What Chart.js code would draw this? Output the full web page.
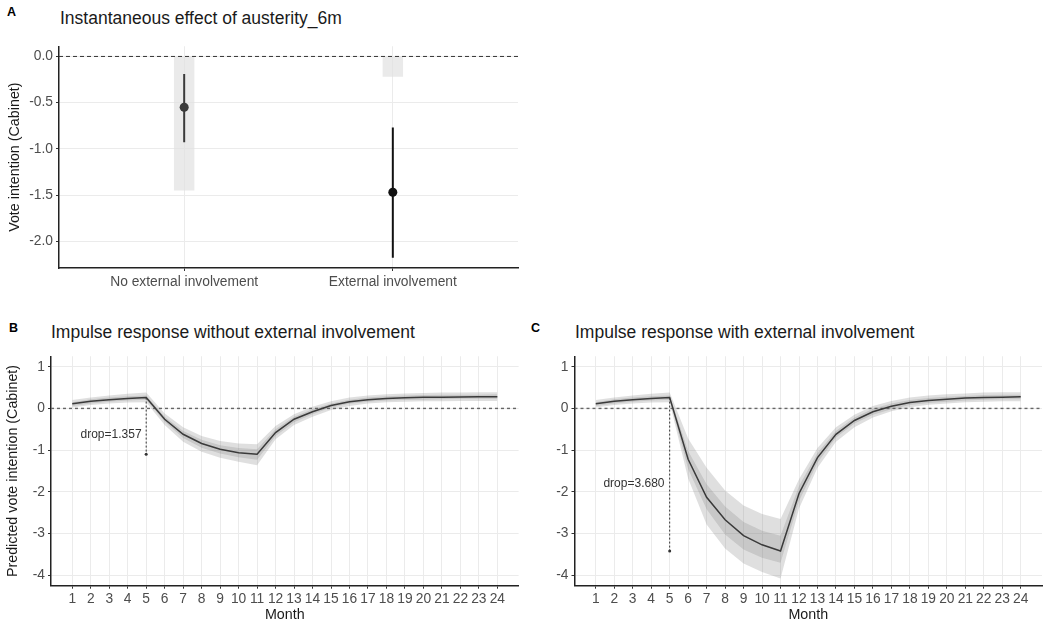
<!DOCTYPE html>
<html>
<head>
<meta charset="utf-8">
<script src="https://cdn.jsdelivr.net/npm/chart.js@4"></script>
<style>
  html,body{margin:0;padding:0;background:#fff;}
  body{width:1046px;height:625px;position:relative;overflow:hidden;font-family:"Liberation Sans",Arial,sans-serif;}
  .box{position:absolute;}
  .ttl{position:absolute;font-size:17.5px;color:#1a1a1a;white-space:nowrap;line-height:1;}
  .lt{position:absolute;font-size:12.5px;font-weight:bold;color:#000;line-height:1;}
</style>
</head>
<body>
<div class="lt" style="left:7px;top:6px;">A</div>
<div class="ttl" style="left:60px;top:10px;">Instantaneous effect of austerity_6m</div>
<div class="lt" style="left:9px;top:322px;">B</div>
<div class="ttl" style="left:51px;top:324px;">Impulse response without external involvement</div>
<div class="lt" style="left:531px;top:322px;">C</div>
<div class="ttl" style="left:575px;top:324px;">Impulse response with external involvement</div>

<div class="box" style="left:0;top:35px;width:525px;height:270px;"><canvas id="cA"></canvas></div>
<div class="box" style="left:0;top:345px;width:525px;height:280px;"><canvas id="cB"></canvas></div>
<div class="box" style="left:520px;top:345px;width:526px;height:280px;"><canvas id="cC"></canvas></div>

<script>
// ---------- Panel A data ----------
const categoriesA = ["No external involvement", "External involvement"];
const estimateA = [-0.55, -1.47];
const ciLowA = [-0.93, -2.18];
const ciHighA = [-0.19, -0.77];
const boxLowA = [-1.45, -0.22];
const boxHighA = [0, 0];
const ticksA = [0, -0.5, -1.0, -1.5, -2.0];

// ---------- Panels B & C data ----------
const months = [1,2,3,4,5,6,7,8,9,10,11,12,13,14,15,16,17,18,19,20,21,22,23,24];
const monthTicks = months;
const ticksBC = [1, 0, -1, -2, -3, -4];

const lineB  = [0.11,0.17,0.21,0.24,0.26,-0.26,-0.62,-0.84,-0.98,-1.06,-1.10,-0.58,-0.26,-0.08,0.07,0.16,0.21,0.24,0.255,0.265,0.27,0.275,0.28,0.28];
const outerHiB = [0.20,0.26,0.31,0.35,0.38,-0.12,-0.45,-0.66,-0.78,-0.84,-0.86,-0.42,-0.14,0.04,0.17,0.26,0.31,0.34,0.36,0.37,0.38,0.38,0.39,0.39];
const outerLoB = [0.02,0.08,0.12,0.14,0.15,-0.40,-0.80,-1.04,-1.18,-1.28,-1.36,-0.74,-0.40,-0.20,-0.04,0.06,0.12,0.15,0.16,0.17,0.17,0.18,0.18,0.18];
const innerHiB = [0.15,0.22,0.26,0.29,0.31,-0.20,-0.54,-0.75,-0.88,-0.95,-0.98,-0.50,-0.20,-0.02,0.12,0.21,0.26,0.29,0.31,0.32,0.33,0.33,0.33,0.34];
const innerLoB = [0.06,0.12,0.16,0.19,0.21,-0.32,-0.71,-0.94,-1.08,-1.17,-1.23,-0.66,-0.33,-0.14,0.02,0.11,0.16,0.19,0.20,0.21,0.22,0.23,0.23,0.23];

const lineC  = [0.11,0.17,0.21,0.24,0.26,-1.22,-2.13,-2.67,-3.05,-3.27,-3.42,-2.04,-1.18,-0.62,-0.29,-0.08,0.05,0.14,0.19,0.22,0.25,0.26,0.27,0.28];
const outerHiC = [0.20,0.26,0.31,0.35,0.38,-0.72,-1.42,-1.97,-2.33,-2.53,-2.65,-1.70,-0.95,-0.45,-0.15,0.06,0.18,0.26,0.31,0.34,0.36,0.38,0.39,0.39];
const outerLoC = [0.02,0.08,0.12,0.14,0.15,-1.68,-2.78,-3.36,-3.72,-3.92,-4.08,-2.40,-1.42,-0.80,-0.45,-0.22,-0.07,0.03,0.09,0.12,0.15,0.16,0.17,0.17];
const innerHiC = [0.15,0.22,0.26,0.29,0.31,-1.02,-1.82,-2.35,-2.72,-2.93,-3.05,-1.86,-1.07,-0.54,-0.22,-0.01,0.12,0.20,0.25,0.28,0.30,0.32,0.33,0.33];
const innerLoC = [0.06,0.12,0.16,0.19,0.21,-1.45,-2.42,-3.02,-3.38,-3.58,-3.70,-2.22,-1.30,-0.70,-0.36,-0.15,-0.02,0.08,0.13,0.16,0.19,0.21,0.22,0.22];

const dropMonth = 5;
const dropB = {text: "drop=1.357", top: 0.26, bottom: -1.10, labelX: 4.75, labelY: -0.62};
const dropC = {text: "drop=3.680", top: 0.26, bottom: -3.42, labelX: 4.72, labelY: -1.81};

// ---------- shared styles ----------
const FONT = '"Liberation Sans", Arial, sans-serif';
const GRID = '#ebebeb';
const TICKC = '#4d4d4d';
const TICK_SIZE = 13.8;
const TITLE_SIZE = 14.3;
Chart.defaults.font.family = FONT;
Chart.defaults.animation = false;

const pts = (xs, ys) => xs.map((x, i) => ({x: x, y: ys[i]}));

function setTicks(values) {
  return function(scale) { scale.ticks = values.map(v => ({value: v})); };
}

// box half-width in category units (style)
const BOX_HALF = 0.05;
function boxEdge(i, yv) {
  return [{x: i + 1 - BOX_HALF, y: yv}, {x: i + 1 + BOX_HALF, y: yv}];
}

// ---------- Panel A ----------
new Chart(document.getElementById('cA'), {
  data: {
    datasets: [
      {type: 'scatter', data: pts([1], [estimateA[0]]), pointRadius: 4.5, pointBackgroundColor: '#3a3a3a', pointBorderWidth: 0, order: 1},
      {type: 'scatter', data: pts([2], [estimateA[1]]), pointRadius: 4.5, pointBackgroundColor: '#111', pointBorderWidth: 0, order: 1},
      {type: 'line', data: [{x: 1, y: ciHighA[0]}, {x: 1, y: ciLowA[0]}], borderColor: '#3a3a3a', borderWidth: 2, pointRadius: 0, order: 2},
      {type: 'line', data: [{x: 2, y: ciHighA[1]}, {x: 2, y: ciLowA[1]}], borderColor: '#111', borderWidth: 2, pointRadius: 0, order: 2},
      {type: 'line', data: [{x: 0.4, y: 0}, {x: 2.6, y: 0}], borderColor: '#333', borderWidth: 1, borderDash: [4, 3], pointRadius: 0, order: 3},
      {type: 'line', data: boxEdge(0, boxHighA[0]), borderWidth: 0, pointRadius: 0, fill: '+1', backgroundColor: 'rgba(225,225,225,0.7)', order: 5},
      {type: 'line', data: boxEdge(0, boxLowA[0]), borderWidth: 0, pointRadius: 0, fill: false, order: 5},
      {type: 'line', data: boxEdge(1, boxHighA[1]), borderWidth: 0, pointRadius: 0, fill: '+1', backgroundColor: 'rgba(225,225,225,0.7)', order: 5},
      {type: 'line', data: boxEdge(1, boxLowA[1]), borderWidth: 0, pointRadius: 0, fill: false, order: 5}
    ]
  },
  options: {
    responsive: true, maintainAspectRatio: false,
    layout: {padding: {top: 5, right: 7, left: 0, bottom: 0}},
    plugins: {legend: {display: false}, tooltip: {enabled: false}},
    scales: {
      x: {
        type: 'linear', min: 0.4, max: 2.6, offset: false,
        afterBuildTicks: setTicks([1, 2]),
        afterFit: s => { s.height = 37; },
        grid: {color: GRID, lineWidth: 1, tickColor: '#333', tickLength: 3},
        border: {display: true, color: '#222', width: 1.5},
        ticks: {color: TICKC, font: {size: TICK_SIZE}, padding: 3, autoSkip: false, maxRotation: 0,
                callback: v => categoriesA[Math.round(v) - 1]}
      },
      y: {
        type: 'linear', min: -2.29, max: 0.11,
        afterBuildTicks: setTicks(ticksA),
        afterFit: s => { s.width = 59; },
        grid: {color: GRID, lineWidth: 1, tickColor: '#333', tickLength: 3},
        border: {display: true, color: '#222', width: 1.5},
        ticks: {color: TICKC, font: {size: TICK_SIZE}, padding: 3, callback: v => v.toFixed(1)},
        title: {display: true, text: 'Vote intention (Cabinet)', color: '#1a1a1a', font: {size: TITLE_SIZE}, padding: {top: 6, bottom: 0}}
      }
    }
  }
});

// ---------- Panels B & C ----------
const dropLabelPlugin = {
  id: 'dropLabel',
  afterDatasetsDraw(chart, args, opts) {
    const d = opts.drop;
    if (!d) return;
    const ctx = chart.ctx;
    const x = chart.scales.x.getPixelForValue(d.labelX);
    const y = chart.scales.y.getPixelForValue(d.labelY);
    ctx.save();
    ctx.font = '12px ' + FONT;
    ctx.fillStyle = '#333';
    ctx.textAlign = 'right';
    ctx.textBaseline = 'middle';
    ctx.fillText(d.text, x, y);
    ctx.restore();
  }
};

function irfChart(id, line, oHi, oLo, iHi, iLo, drop, yWidth, padRight, showYTitle) {
  new Chart(document.getElementById(id), {
    data: {
      datasets: [
        {type: 'line', data: pts(months, oHi), borderWidth: 0, pointRadius: 0, fill: '+1', backgroundColor: 'rgba(130,130,130,0.26)', order: 6},
        {type: 'line', data: pts(months, oLo), borderWidth: 0, pointRadius: 0, fill: false, order: 6},
        {type: 'line', data: pts(months, iHi), borderWidth: 0, pointRadius: 0, fill: '+1', backgroundColor: 'rgba(130,130,130,0.26)', order: 5},
        {type: 'line', data: pts(months, iLo), borderWidth: 0, pointRadius: 0, fill: false, order: 5},
        {type: 'line', data: [{x: -0.15, y: 0}, {x: 25.15, y: 0}], borderColor: '#666', borderWidth: 1.4, borderDash: [3, 3], pointRadius: 0, order: 3},
        {type: 'line', data: [{x: dropMonth, y: drop.top}, {x: dropMonth, y: drop.bottom}], borderColor: '#333', borderWidth: 1, borderDash: [2, 2], pointRadius: [0, 1.5], pointBackgroundColor: '#333', pointBorderWidth: 0, order: 2},
        {type: 'line', data: pts(months, line), borderColor: '#3a3a3a', borderWidth: 1.5, pointRadius: 0, fill: false, tension: 0, order: 1}
      ]
    },
    options: {
      responsive: true, maintainAspectRatio: false,
      layout: {padding: {top: 10, right: padRight, left: 0, bottom: 0}},
      plugins: {legend: {display: false}, tooltip: {enabled: false}, dropLabel: {drop: drop}},
      scales: {
        x: {
          type: 'linear', min: -0.15, max: 25.15,
          afterBuildTicks: setTicks(monthTicks),
          afterFit: s => { s.height = 39.3; },
          grid: {color: GRID, lineWidth: 1, tickColor: '#333', tickLength: 3},
          border: {display: true, color: '#222', width: 1.5},
          ticks: {color: TICKC, font: {size: TICK_SIZE}, padding: 2, autoSkip: false, maxRotation: 0, callback: v => String(v)},
          title: {display: true, text: 'Month', color: '#1a1a1a', font: {size: TITLE_SIZE}, padding: {top: 0, bottom: 1}}
        },
        y: {
          type: 'linear', min: -4.25, max: 1.25,
          afterBuildTicks: setTicks(ticksBC),
          afterFit: s => { s.width = yWidth; },
          grid: {color: GRID, lineWidth: 1, tickColor: '#333', tickLength: 3},
          border: {display: true, color: '#222', width: 1.5},
          ticks: {color: TICKC, font: {size: TICK_SIZE}, padding: 3, callback: v => String(v)},
          title: {display: showYTitle, text: 'Predicted vote intention (Cabinet)', color: '#1a1a1a', font: {size: TITLE_SIZE}, padding: {top: 4, bottom: 0}}
        }
      }
    },
    plugins: [dropLabelPlugin]
  });
}

irfChart('cB', lineB, outerHiB, outerLoB, innerHiB, innerLoB, dropB, 51, 6.4, true);
irfChart('cC', lineC, outerHiC, outerLoC, innerHiC, innerLoC, dropC, 54.5, 4, false);
</script>
</body>
</html>
